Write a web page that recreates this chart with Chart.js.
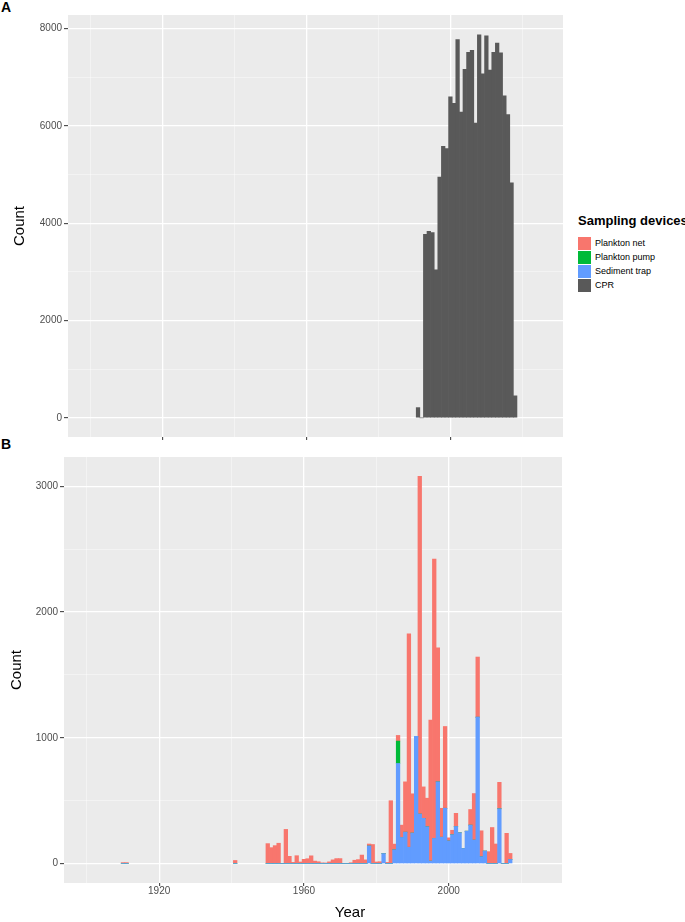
<!DOCTYPE html>
<html>
<head>
<meta charset="utf-8">
<script src="https://cdn.jsdelivr.net/npm/chart.js@4.4.1/dist/chart.umd.min.js"></script>
<style>
  body { margin: 0; background: #fff; width: 685px; height: 922px; position: relative; overflow: hidden;
         font-family: "Liberation Sans", Arial, sans-serif; }
  canvas { position: absolute; left: 0; }
  #chartA { top: 0; }
  #chartB { top: 445px; }
  .tag { position: absolute; left: 1px; font-weight: bold; font-size: 14px; line-height: 14px; }
  #xTitle { position: absolute; top: 903px; left: 0; width: 700px; text-align: center; font-size: 15px; line-height: 18px; }
  #legend { position: absolute; left: 578px; top: 213px; }
  #legend .ltitle { font-weight: bold; font-size: 13px; line-height: 16px; margin-bottom: 7px; white-space: nowrap; }
  #legend .item { height: 14px; display: flex; align-items: center; font-size: 9px; }
  #legend .key { width: 13px; height: 13px; margin-right: 4px; }
</style>
</head>
<body>
<div class="tag" style="top:0px">A</div>
<div class="tag" style="top:437px">B</div>
<canvas id="chartA" width="575" height="445"></canvas>
<canvas id="chartB" width="575" height="477"></canvas>
<div id="xTitle">Year</div>
<div id="legend"></div>

<script>
// panel A: CPR counts per year
const cprYears = [1991, 1992, 1993, 1994, 1995, 1996, 1997, 1998, 1999, 2000, 2001, 2002, 2003, 2004,
  2005, 2006, 2007, 2008, 2009, 2010, 2011, 2012, 2013, 2014, 2015, 2016, 2017, 2018];
const cprCounts = [210, 0, 3770, 3835, 3810, 3040, 4950, 5580, 5535, 6600, 6465, 7775, 6285, 7165,
  7515, 7555, 6060, 7870, 7070, 7850, 7150, 7515, 7705, 7500, 6620, 6235, 4830, 452];

// panel B: other devices per year
const devYears = [1910, 1911, 1941,
  1950, 1951, 1952, 1953, 1954, 1955, 1956, 1957, 1958, 1959,
  1960, 1961, 1962, 1963, 1964, 1965, 1966, 1967, 1968, 1969,
  1970, 1971, 1972, 1973, 1974, 1975, 1976, 1977, 1978, 1979,
  1980, 1981, 1982, 1983, 1984, 1985, 1986, 1987, 1988, 1989,
  1990, 1991, 1992, 1993, 1994, 1995, 1996, 1997, 1998, 1999,
  2000, 2001, 2002, 2003, 2004, 2005, 2006, 2007, 2008, 2009,
  2010, 2011, 2012, 2013, 2014, 2015, 2016, 2017];
const netCounts = [8, 8, 25,
  159, 127, 143, 162, 0, 272, 58, 10, 63, 13,
  34, 39, 62, 20, 15, 6, 4, 14, 30, 40,
  40, 0, 0, 7, 27, 32, 68, 30, 16, 152,
  13, 15, 0, 10, 500, 45, 45, 98, 400, 1696,
  312, 0, 2684, 250, 227, 1120, 2220, 1066, 230, 650,
  25, 35, 105, 0, 0, 0, 124, 370, 478, 206,
  0, 95, 287, 156, 210, 0, 241, 48];
const pumpCounts = [0, 0, 0,
  0, 0, 0, 0, 0, 0, 0, 0, 0, 0,
  0, 0, 0, 0, 0, 0, 0, 0, 0, 0,
  0, 0, 0, 0, 0, 0, 0, 0, 0, 0,
  0, 0, 0, 0, 0, 0, 178, 0, 0, 0,
  0, 0, 0, 0, 0, 0, 0, 0, 0, 0,
  0, 0, 0, 0, 0, 0, 0, 0, 0, 0,
  0, 0, 0, 0, 0, 0, 0, 0];
const trapCounts = [0, 0, 0,
  0, 0, 0, 0, 0, 0, 0, 0, 0, 0,
  0, 0, 0, 0, 0, 0, 0, 0, 0, 0,
  0, 0, 0, 0, 0, 0, 0, 0, 140, 0,
  0, 0, 80, 0, 0, 110, 796, 208, 250, 130,
  243, 1012, 394, 360, 293, 20, 200, 650, 210, 440,
  180, 230, 295, 245, 120, 258, 306, 187, 1164, 55,
  100, 0, 0, 0, 436, 0, 0, 33];

const deviceNames = ['Plankton net', 'Plankton pump', 'Sediment trap', 'CPR'];
const deviceColors = ['#F8766D', '#00BA38', '#619CFF', '#595959'];

const xTicks = [1900, 1920, 1940, 1960, 1980, 2000, 2020];
const yTicksA = [0, 1000, 2000, 3000, 4000, 5000, 6000, 7000, 8000];
const yTicksB = [0, 500, 1000, 1500, 2000, 2500, 3000];

// grey panel background like ggplot
const panelBg = {
  id: 'panelBg',
  beforeDraw(chart) {
    const { ctx, chartArea: a } = chart;
    ctx.save();
    ctx.fillStyle = '#EBEBEB';
    ctx.fillRect(a.left, a.top, a.right - a.left, a.bottom - a.top);
    ctx.restore();
  }
};

function gridFor(isMajor) {
  const major = c => c.tick ? isMajor(c.tick.value) : true;
  return {
    offset: false,
    color: c => major(c) ? '#FFFFFF' : 'rgba(255,255,255,0.6)',
    lineWidth: c => major(c) ? 1.3 : 0.7,
    tickColor: c => major(c) ? '#333333' : 'rgba(0,0,0,0)',
    tickWidth: 1,
    drawTicks: true
  };
}

function makeX(showLabels, height) {
  const isMajor = v => v % 40 === 0;
  return {
    type: 'linear', min: 1893.7, max: 2031.3, stacked: true, offset: false,
    afterBuildTicks: s => { s.ticks = xTicks.map(v => ({ value: v })); },
    afterFit: s => { s.height = height; },
    grid: { ...gridFor(isMajor), tickLength: 3 },
    border: { display: false },
    ticks: {
      autoSkip: false, maxRotation: 0, padding: -1, color: '#4D4D4D', font: { size: 10 },
      callback: v => (showLabels && isMajor(v)) ? String(v) : ''
    }
  };
}

function makeY(ticks, step, min, max, width, titlePad) {
  const isMajor = v => v % step === 0;
  return {
    type: 'linear', min: min, max: max, stacked: true,
    afterBuildTicks: s => { s.ticks = ticks.map(v => ({ value: v })); },
    afterFit: s => { s.width = width; },
    grid: { ...gridFor(isMajor), tickLength: 4 },
    border: { display: false },
    ticks: {
      padding: 2, color: '#4D4D4D', font: { size: 10 },
      callback: v => isMajor(v) ? String(v) : ''
    },
    title: { display: true, text: 'Count', color: '#000', font: { size: 15 }, padding: { top: titlePad, bottom: 0 } }
  };
}

function barSet(label, color, years, values) {
  return {
    label: label,
    data: years.map((y, i) => ({ x: y, y: values[i] })),
    backgroundColor: color,
    borderWidth: 0,
    barPercentage: 1,
    categoryPercentage: 1
  };
}

const common = {
  responsive: false,
  animation: false,
  plugins: { legend: { display: false }, tooltip: { enabled: false } }
};

new Chart(document.getElementById('chartA'), {
  type: 'bar',
  data: { datasets: [barSet(deviceNames[3], deviceColors[3], cprYears, cprCounts)] },
  options: {
    ...common,
    layout: { padding: { top: 15, right: 12, left: 0, bottom: 0 } },
    scales: {
      x: makeX(false, 8),
      y: makeY(yTicksA, 2000, -394, 8280, 68, 11)
    }
  },
  plugins: [panelBg]
});

// stacking: first dataset sits at the bottom
new Chart(document.getElementById('chartB'), {
  type: 'bar',
  data: {
    datasets: [
      barSet(deviceNames[2], deviceColors[2], devYears, trapCounts),
      barSet(deviceNames[1], deviceColors[1], devYears, pumpCounts),
      barSet(deviceNames[0], deviceColors[0], devYears, netCounts)
    ]
  },
  options: {
    ...common,
    layout: { padding: { top: 12, right: 13, left: 0, bottom: 0 } },
    scales: {
      x: makeX(true, 39),
      y: makeY(yTicksB, 1000, -154, 3232, 64, 8)
    }
  },
  plugins: [panelBg]
});

// shared legend
const legend = document.getElementById('legend');
legend.innerHTML = '<div class="ltitle">Sampling devices</div>' +
  deviceNames.map((n, i) =>
    `<div class="item"><span class="key" style="background:${deviceColors[i]}"></span>${n}</div>`
  ).join('');
</script>
</body>
</html>
